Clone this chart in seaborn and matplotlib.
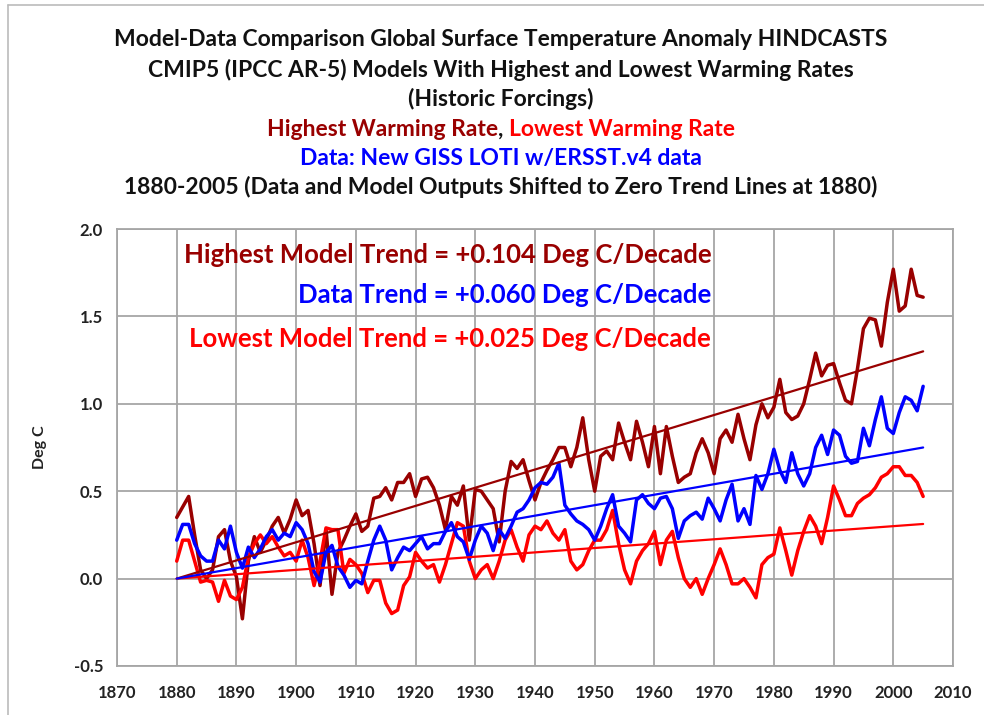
import matplotlib
matplotlib.use("Agg")
import matplotlib.pyplot as plt
import seaborn as sns
import numpy as np
import pandas as pd
from matplotlib.lines import Line2D

# ---------------- data ----------------
years = list(range(1880, 2006))

highest_model = [
    0.35, 0.41, 0.47, 0.25, 0.05, 0.00, 0.05, 0.24, 0.28, 0.10,
    0.01, -0.23, 0.10, 0.24, 0.15, 0.22, 0.30, 0.35, 0.26, 0.34,
    0.45, 0.36, 0.39, 0.20, -0.04, 0.28, -0.09, 0.15, 0.22, 0.30,
    0.37, 0.27, 0.30, 0.46, 0.47, 0.52, 0.45, 0.55, 0.55, 0.60,
    0.47, 0.57, 0.58, 0.52, 0.42, 0.28, 0.47, 0.42, 0.53, 0.22,
    0.51, 0.50, 0.45, 0.40, 0.21, 0.50, 0.67, 0.63, 0.68, 0.56,
    0.45, 0.55, 0.62, 0.68, 0.75, 0.75, 0.64, 0.75, 0.92, 0.68,
    0.50, 0.70, 0.73, 0.68, 0.89, 0.78, 0.68, 0.90, 0.78, 0.64,
    0.87, 0.60, 0.87, 0.70, 0.55, 0.58, 0.60, 0.72, 0.80, 0.72,
    0.60, 0.80, 0.85, 0.78, 0.94, 0.80, 0.68, 0.88, 1.00, 0.92,
    0.98, 1.14, 0.95, 0.91, 0.93, 1.00, 1.14, 1.29, 1.16, 1.22,
    1.23, 1.12, 1.02, 1.00, 1.20, 1.43, 1.49, 1.48, 1.33, 1.58,
    1.77, 1.53, 1.56, 1.77, 1.62, 1.61,
]

giss_data = [
    0.22, 0.31, 0.31, 0.20, 0.13, 0.10, 0.10, 0.22, 0.17, 0.30,
    0.15, 0.06, 0.18, 0.12, 0.17, 0.24, 0.28, 0.22, 0.26, 0.24,
    0.32, 0.28, 0.20, 0.04, -0.02, 0.15, 0.19, 0.07, 0.02, -0.05,
    -0.01, -0.03, 0.10, 0.22, 0.30, 0.22, 0.05, 0.12, 0.18, 0.16,
    0.20, 0.24, 0.17, 0.20, 0.20, 0.27, 0.32, 0.24, 0.21, 0.11,
    0.22, 0.30, 0.26, 0.16, 0.28, 0.23, 0.30, 0.38, 0.40, 0.45,
    0.52, 0.55, 0.54, 0.58, 0.66, 0.42, 0.37, 0.33, 0.31, 0.28,
    0.22, 0.30, 0.40, 0.48, 0.30, 0.26, 0.21, 0.45, 0.48, 0.43,
    0.40, 0.46, 0.47, 0.40, 0.23, 0.33, 0.36, 0.38, 0.34, 0.46,
    0.40, 0.33, 0.45, 0.54, 0.33, 0.40, 0.31, 0.59, 0.51, 0.60,
    0.74, 0.62, 0.55, 0.72, 0.60, 0.53, 0.60, 0.75, 0.82, 0.71,
    0.85, 0.82, 0.70, 0.66, 0.67, 0.86, 0.76, 0.91, 1.04, 0.86,
    0.83, 0.95, 1.04, 1.02, 0.96, 1.10,
]

lowest_model = [
    0.10, 0.22, 0.22, 0.10, -0.02, -0.01, -0.02, -0.13, -0.01, -0.10,
    -0.12, -0.05, 0.12, 0.20, 0.25, 0.20, 0.24, 0.18, 0.13, 0.15,
    0.10, 0.22, 0.12, -0.04, 0.10, 0.29, 0.28, 0.28, 0.03, 0.11,
    0.08, 0.03, -0.08, -0.01, -0.01, -0.14, -0.20, -0.18, -0.04, 0.01,
    0.15, 0.10, 0.06, 0.08, -0.02, 0.08, 0.20, 0.32, 0.30, 0.10,
    0.00, 0.05, 0.08, 0.00, 0.10, 0.22, 0.28, 0.18, 0.10, 0.25,
    0.30, 0.28, 0.33, 0.26, 0.22, 0.28, 0.10, 0.05, 0.08, 0.16,
    0.22, 0.22, 0.28, 0.39, 0.20, 0.05, -0.03, 0.10, 0.16, 0.20,
    0.27, 0.08, 0.22, 0.27, 0.12, 0.00, -0.05, 0.00, -0.09, 0.00,
    0.08, 0.17, 0.08, -0.03, -0.03, 0.00, -0.05, -0.11, 0.08, 0.12,
    0.14, 0.29, 0.16, 0.02, 0.16, 0.27, 0.36, 0.30, 0.20, 0.35,
    0.53, 0.45, 0.36, 0.36, 0.43, 0.46, 0.48, 0.52, 0.58, 0.60,
    0.64, 0.64, 0.59, 0.59, 0.55, 0.47,
]

# trends in deg C per decade (from chart annotations)
trend_high = 0.104
trend_data = 0.060
trend_low = 0.025

title_lines = [
    "Model-Data Comparison Global Surface Temperature Anomaly HINDCASTS",
    "CMIP5 (IPCC AR-5) Models With Highest and Lowest Warming Rates",
    "(Historic Forcings)",
]
subtitle_data = "Data: New GISS LOTI w/ERSST.v4 data"
subtitle_period = "1880-2005 (Data and Model Outputs Shifted to Zero Trend Lines at 1880)"

xticks = list(range(1870, 2011, 10))
yticks = [-0.5, 0.0, 0.5, 1.0, 1.5, 2.0]

# ---------------- style ----------------
C_HIGH = "#990000"
C_LOW = "#FF0000"
C_DATA = "#0000FF"
GRID = "#A6A6A6"

sns.set_theme(style="white")
FONT = ["Lato", "DejaVu Sans"]
plt.rcParams["font.family"] = FONT

W, H = 984, 715
fig = plt.figure(figsize=(W / 100, H / 100), dpi=100)
fig.patch.set_facecolor("white")

ax = fig.add_axes([117 / W, 1 - 666 / H, (953 - 117) / W, (666 - 229) / H])

df = pd.DataFrame({
    "year": years * 3,
    "value": highest_model + lowest_model + giss_data,
    "series": ["high"] * len(years) + ["low"] * len(years) + ["data"] * len(years),
})

palette = {"high": C_HIGH, "low": C_LOW, "data": C_DATA}
sns.lineplot(data=df, x="year", y="value", hue="series", palette=palette,
             hue_order=["high", "low", "data"], linewidth=2.5, ax=ax,
             legend=False, zorder=3)

yr = np.array(years)
for slope, c in [(trend_high, C_HIGH), (trend_low, C_LOW), (trend_data, C_DATA)]:
    sns.lineplot(x=yr, y=slope * (yr - 1880) / 10.0, color=c, linewidth=1.6,
                 ax=ax, zorder=4)

ax.set_xlim(1870, 2010)
ax.set_ylim(-0.5, 2.0)
ax.set_xticks(xticks)
ax.set_yticks(yticks)
ax.set_yticklabels([f"{v:.1f}" for v in yticks])
ax.set_xticklabels([str(v) for v in xticks])
ax.grid(True, color=GRID, linewidth=1.3)
ax.set_axisbelow(True)
for s in ax.spines.values():
    s.set_color(GRID)
    s.set_linewidth(1.3)
ax.tick_params(axis="y", length=5, color=GRID, pad=5, labelsize=12,
               labelcolor="#222222")
ax.tick_params(axis="x", length=0, pad=14, labelsize=12, labelcolor="#222222")
for lab in ax.get_xticklabels() + ax.get_yticklabels():
    lab.set_fontweight("bold")
ax.set_xlabel("")
ax.set_ylabel("Deg C", fontsize=11.5, fontweight="bold", color="#222222")
ax.yaxis.set_label_coords(-(117 - 47) / (953 - 117), 0.5)

# annotations
ann_x = 1969.5
ann_fs = 18.5
ax.text(ann_x, 1.85, "Highest Model Trend = +0.104 Deg C/Decade", color=C_HIGH,
        fontsize=ann_fs, fontweight="bold", ha="right", va="center")
ax.text(ann_x, 1.62, "Data Trend = +0.060 Deg C/Decade", color=C_DATA,
        fontsize=ann_fs, fontweight="bold", ha="right", va="center")
ax.text(ann_x, 1.37, "Lowest Model Trend = +0.025 Deg C/Decade", color=C_LOW,
        fontsize=ann_fs, fontweight="bold", ha="right", va="center")

# titles
TFS = 16.5
cx = 501 / W
tys = [40, 70, 99]
for t, y in zip(title_lines, tys):
    fig.text(cx, 1 - y / H, t, ha="center", va="center", fontsize=TFS,
             fontweight="bold", color="#111111")

# coloured line: "Highest Warming Rate, Lowest Warming Rate"
y4 = 1 - 129 / H
t1 = fig.text(0, y4, "Highest Warming Rate", fontsize=TFS, fontweight="bold",
              color=C_HIGH, va="center")
t2 = fig.text(0, y4, ", ", fontsize=TFS, fontweight="bold", color="#111111",
              va="center")
t3 = fig.text(0, y4, "Lowest Warming Rate", fontsize=TFS, fontweight="bold",
              color=C_LOW, va="center")
fig.canvas.draw()
r = fig.canvas.get_renderer()
w1 = t1.get_window_extent(r).width
w2 = t2.get_window_extent(r).width
w3 = t3.get_window_extent(r).width
total = w1 + w2 + w3
x0 = 501 - total / 2
t1.set_x(x0 / W)
t2.set_x((x0 + w1) / W)
t3.set_x((x0 + w1 + w2) / W)

fig.text(cx, 1 - 158 / H, subtitle_data, ha="center", va="center", fontsize=TFS,
         fontweight="bold", color=C_DATA)
fig.text(cx, 1 - 187 / H, subtitle_period, ha="center", va="center",
         fontsize=TFS, fontweight="bold", color="#111111")

# outer frame lines (left and top)
fig.add_artist(Line2D([8 / W, 8 / W], [0, 1 - 5 / H], color="#BBBBBB", linewidth=1.2))
fig.add_artist(Line2D([8 / W, 1], [1 - 5 / H, 1 - 5 / H], color="#BBBBBB", linewidth=1.2))

fig.savefig("out.png", dpi=100, facecolor="white")
